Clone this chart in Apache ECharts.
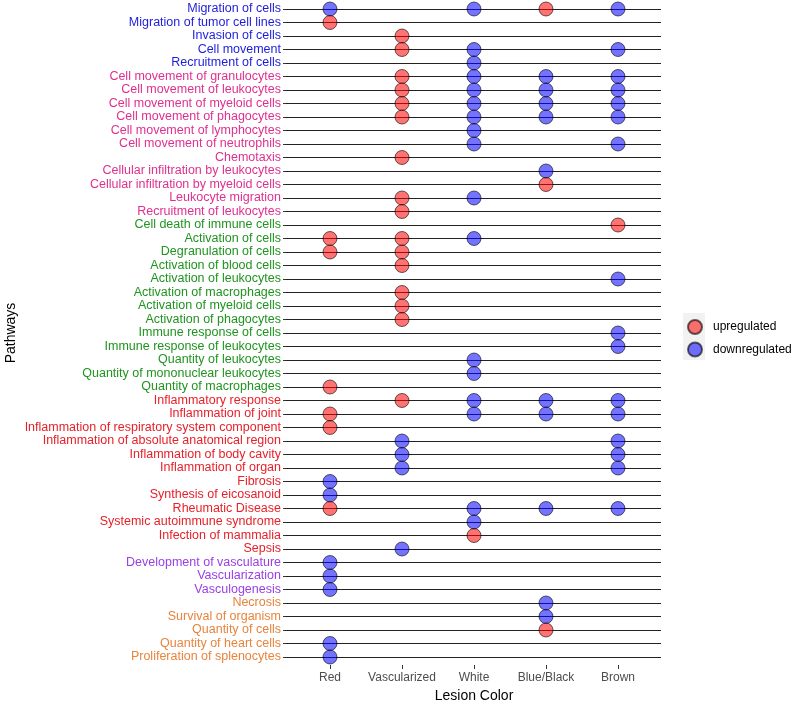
<!DOCTYPE html>
<html>
<head>
<meta charset="utf-8">
<script src="https://cdn.jsdelivr.net/npm/echarts@6/dist/echarts.min.js"></script>
<style>
  html, body { margin: 0; padding: 0; background: #fff; }
  #main { width: 800px; height: 703px; }
</style>
</head>
<body>
<div id="main"></div>
<script>
// pathway groups, top to bottom
var migrationPathways = ['Migration of cells', 'Migration of tumor cell lines', 'Invasion of cells',
  'Cell movement', 'Recruitment of cells'];
var leukocyteMovementPathways = ['Cell movement of granulocytes', 'Cell movement of leukocytes',
  'Cell movement of myeloid cells', 'Cell movement of phagocytes', 'Cell movement of lymphocytes',
  'Cell movement of neutrophils', 'Chemotaxis', 'Cellular infiltration by leukocytes',
  'Cellular infiltration by myeloid cells', 'Leukocyte migration', 'Recruitment of leukocytes'];
var immunePathways = ['Cell death of immune cells', 'Activation of cells', 'Degranulation of cells',
  'Activation of blood cells', 'Activation of leukocytes', 'Activation of macrophages',
  'Activation of myeloid cells', 'Activation of phagocytes', 'Immune response of cells',
  'Immune response of leukocytes', 'Quantity of leukocytes', 'Quantity of mononuclear leukocytes',
  'Quantity of macrophages'];
var inflammationPathways = ['Inflammatory response', 'Inflammation of joint',
  'Inflammation of respiratory system component', 'Inflammation of absolute anatomical region',
  'Inflammation of body cavity', 'Inflammation of organ', 'Fibrosis', 'Synthesis of eicosanoid',
  'Rheumatic Disease', 'Systemic autoimmune syndrome', 'Infection of mammalia', 'Sepsis'];
var vascularPathways = ['Development of vasculature', 'Vascularization', 'Vasculogenesis'];
var survivalPathways = ['Necrosis', 'Survival of organism', 'Quantity of cells',
  'Quantity of heart cells', 'Proliferation of splenocytes'];

var lesionColors = ['Red', 'Vascularized', 'White', 'Blue/Black', 'Brown'];

// [lesion color, pathway]
var upregulated = [
  ['Blue/Black', 'Migration of cells'],
  ['Red', 'Migration of tumor cell lines'],
  ['Vascularized', 'Invasion of cells'],
  ['Vascularized', 'Cell movement'],
  ['Vascularized', 'Cell movement of granulocytes'],
  ['Vascularized', 'Cell movement of leukocytes'],
  ['Vascularized', 'Cell movement of myeloid cells'],
  ['Vascularized', 'Cell movement of phagocytes'],
  ['Vascularized', 'Chemotaxis'],
  ['Blue/Black', 'Cellular infiltration by myeloid cells'],
  ['Vascularized', 'Leukocyte migration'],
  ['Vascularized', 'Recruitment of leukocytes'],
  ['Brown', 'Cell death of immune cells'],
  ['Red', 'Activation of cells'],
  ['Vascularized', 'Activation of cells'],
  ['Red', 'Degranulation of cells'],
  ['Vascularized', 'Degranulation of cells'],
  ['Vascularized', 'Activation of blood cells'],
  ['Vascularized', 'Activation of macrophages'],
  ['Vascularized', 'Activation of myeloid cells'],
  ['Vascularized', 'Activation of phagocytes'],
  ['Red', 'Quantity of macrophages'],
  ['Vascularized', 'Inflammatory response'],
  ['Red', 'Inflammation of joint'],
  ['Red', 'Inflammation of respiratory system component'],
  ['Red', 'Rheumatic Disease'],
  ['White', 'Infection of mammalia'],
  ['Blue/Black', 'Quantity of cells']
];

var downregulated = [
  ['Red', 'Migration of cells'], ['White', 'Migration of cells'], ['Brown', 'Migration of cells'],
  ['White', 'Cell movement'], ['Brown', 'Cell movement'],
  ['White', 'Recruitment of cells'],
  ['White', 'Cell movement of granulocytes'], ['Blue/Black', 'Cell movement of granulocytes'], ['Brown', 'Cell movement of granulocytes'],
  ['White', 'Cell movement of leukocytes'], ['Blue/Black', 'Cell movement of leukocytes'], ['Brown', 'Cell movement of leukocytes'],
  ['White', 'Cell movement of myeloid cells'], ['Blue/Black', 'Cell movement of myeloid cells'], ['Brown', 'Cell movement of myeloid cells'],
  ['White', 'Cell movement of phagocytes'], ['Blue/Black', 'Cell movement of phagocytes'], ['Brown', 'Cell movement of phagocytes'],
  ['White', 'Cell movement of lymphocytes'],
  ['White', 'Cell movement of neutrophils'], ['Brown', 'Cell movement of neutrophils'],
  ['Blue/Black', 'Cellular infiltration by leukocytes'],
  ['White', 'Leukocyte migration'],
  ['White', 'Activation of cells'],
  ['Brown', 'Activation of leukocytes'],
  ['Brown', 'Immune response of cells'], ['Brown', 'Immune response of leukocytes'],
  ['White', 'Quantity of leukocytes'], ['White', 'Quantity of mononuclear leukocytes'],
  ['White', 'Inflammatory response'], ['Blue/Black', 'Inflammatory response'], ['Brown', 'Inflammatory response'],
  ['White', 'Inflammation of joint'], ['Blue/Black', 'Inflammation of joint'], ['Brown', 'Inflammation of joint'],
  ['Vascularized', 'Inflammation of absolute anatomical region'], ['Brown', 'Inflammation of absolute anatomical region'],
  ['Vascularized', 'Inflammation of body cavity'], ['Brown', 'Inflammation of body cavity'],
  ['Vascularized', 'Inflammation of organ'], ['Brown', 'Inflammation of organ'],
  ['Red', 'Fibrosis'], ['Red', 'Synthesis of eicosanoid'],
  ['White', 'Rheumatic Disease'], ['Blue/Black', 'Rheumatic Disease'], ['Brown', 'Rheumatic Disease'],
  ['White', 'Systemic autoimmune syndrome'],
  ['Vascularized', 'Sepsis'],
  ['Red', 'Development of vasculature'], ['Red', 'Vascularization'], ['Red', 'Vasculogenesis'],
  ['Blue/Black', 'Necrosis'], ['Blue/Black', 'Survival of organism'],
  ['Red', 'Quantity of heart cells'], ['Red', 'Proliferation of splenocytes']
];

var pathways = [].concat(migrationPathways, leukocyteMovementPathways, immunePathways,
  inflammationPathways, vascularPathways, survivalPathways);

// label colour for each group
var groupStyles = [
  [migrationPathways, '#1c1ce0'],
  [leukocyteMovementPathways, '#e0308f'],
  [immunePathways, '#1f941f'],
  [inflammationPathways, '#e8202a'],
  [vascularPathways, '#9a3ee6'],
  [survivalPathways, '#e8843c']
];
function labelColor(name) {
  for (var i = 0; i < groupStyles.length; i++) {
    if (groupStyles[i][0].indexOf(name) >= 0) return groupStyles[i][1];
  }
  return '#333';
}

var myChart = echarts.init(document.getElementById('main'));
myChart.setOption({
  animation: false,
  textStyle: { fontFamily: 'Liberation Sans, Arial, sans-serif' },
  grid: [
    // full panel width, carries the pathway labels and row lines
    { left: 286, right: 139, top: 9, bottom: 46, outerBoundsMode: 'none', containLabel: false },
    // lesion bands
    { left: 294, right: 146, top: 9, bottom: 46, outerBoundsMode: 'none', containLabel: false }
  ],
  xAxis: [{
    gridIndex: 0,
    type: 'category',
    data: lesionColors,
    show: false
  }, {
    gridIndex: 1,
    type: 'category',
    data: lesionColors,
    offset: 8,
    axisLine: { show: false },
    axisTick: { show: true, length: 4, alignWithLabel: true, lineStyle: { color: '#333' } },
    axisLabel: { color: '#4d4d4d', fontSize: 12, margin: 7, interval: 0 },
    splitLine: { show: false },
    name: 'Lesion Color',
    nameLocation: 'middle',
    nameGap: 24,
    nameTextStyle: { color: '#000', fontSize: 14 }
  }],
  yAxis: [{
    gridIndex: 0,
    type: 'category',
    data: pathways,
    inverse: true,
    boundaryGap: false,
    axisLine: { show: false },
    axisTick: { show: true, length: 3, lineStyle: { color: '#333' } },
    axisLabel: {
      fontSize: 12.5,
      margin: 5,
      interval: 0,
      padding: [3, 0, 0, 0],
      color: function (value) { return labelColor(value); }
    },
    splitLine: { show: true, interval: 0, lineStyle: { color: '#222', width: 1.2 } },
    name: 'Pathways',
    nameLocation: 'middle',
    nameRotate: 90,
    nameGap: 268,
    nameTextStyle: { color: '#000', fontSize: 14 }
  }, {
    gridIndex: 1,
    type: 'category',
    data: pathways,
    inverse: true,
    boundaryGap: false,
    show: false
  }],
  legend: {
    orient: 'vertical',
    left: 682,
    top: 314,
    itemWidth: 14,
    itemHeight: 14,
    itemGap: 6.5,
    icon: 'circle',
    data: ['upregulated', 'downregulated'],
    textStyle: { color: '#000', fontSize: 12, padding: [0, 0, 0, 6] }
  },
  graphic: [{
    type: 'rect',
    z: 0,
    shape: { x: 683, y: 313, width: 22, height: 47 },
    style: { fill: '#f2f2f2' }
  }],
  series: [{
    name: 'downregulated',
    type: 'scatter',
    xAxisIndex: 1,
    yAxisIndex: 1,
    symbolSize: 14,
    data: downregulated,
    itemStyle: { color: 'rgba(0,0,255,0.55)', borderColor: 'rgba(0,0,0,0.6)', borderWidth: 1, opacity: 1 }
  }, {
    name: 'upregulated',
    type: 'scatter',
    xAxisIndex: 1,
    yAxisIndex: 1,
    symbolSize: 14,
    data: upregulated,
    itemStyle: { color: 'rgba(255,0,0,0.55)', borderColor: 'rgba(0,0,0,0.6)', borderWidth: 1, opacity: 1 }
  }]
});
</script>
</body>
</html>
